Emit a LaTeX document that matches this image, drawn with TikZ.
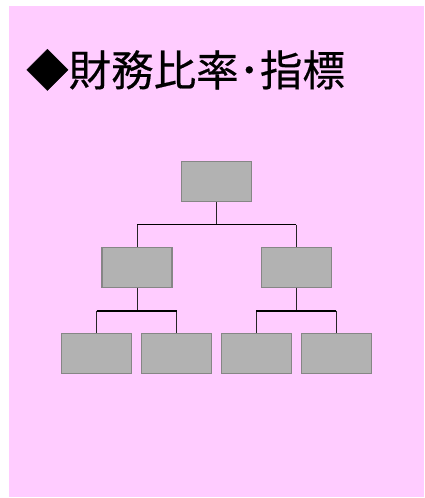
\documentclass[tikz,border=0pt]{standalone}
\usepackage{fontspec}
\newfontfamily\cjk[FakeBold=0.4]{Noto Sans CJK JP}
\definecolor{bgpink}{HTML}{FFCCFF}
\definecolor{boxfill}{HTML}{B2B2B2}
\definecolor{boxline}{HTML}{868686}
\begin{document}
\begin{tikzpicture}[x=1pt,y=-1pt,
  orgbox/.style={draw=boxline,fill=boxfill,line width=1.2pt,minimum width=70pt,minimum height=39.5pt,inner sep=0pt},
  conn/.style={draw=black!85,line width=0.9pt},
  bar/.style={draw=black,line width=1.6pt}]
\useasboundingbox (0,0) rectangle (424,498);
\fill[white] (0,0) rectangle (424,498);
\fill[bgpink] (9,6) rectangle (424,497);
\node[anchor=base west,inner sep=0pt,font=\cjk\fontsize{42.5}{46}\selectfont] (title) at (26,86) {◆財務比率･指標};
\node[orgbox] (top) at (216.5,181.5) {};
\node[orgbox] (m1) at (137,267.5) {};
\node[orgbox] (m2) at (296.2,267.5) {};
\node[orgbox] (b1) at (96.8,353.5) {};
\node[orgbox] (b2) at (176.8,353.5) {};
\node[orgbox] (b3) at (256.3,353.5) {};
\node[orgbox] (b4) at (336.2,353.5) {};
\coordinate (y1) at (0,224.5);
\coordinate (y2) at (0,310.7);
\draw[conn] (top.south) -- (top.south |- y1);
\draw[conn] (m1.north |- y1) -- (m1.north);
\draw[conn] (m2.north |- y1) -- (m2.north);
\draw[bar] (m1.north |- y1) -- (m2.north |- y1);
\draw[conn] (m1.south) -- (m1.south |- y2);
\draw[conn] (b1.north |- y2) -- (b1.north);
\draw[conn] (b2.north |- y2) -- (b2.north);
\draw[bar] (b1.north |- y2) -- (b2.north |- y2);
\draw[conn] (m2.south) -- (m2.south |- y2);
\draw[conn] (b3.north |- y2) -- (b3.north);
\draw[conn] (b4.north |- y2) -- (b4.north);
\draw[bar] (b3.north |- y2) -- (b4.north |- y2);
\end{tikzpicture}
\end{document}
